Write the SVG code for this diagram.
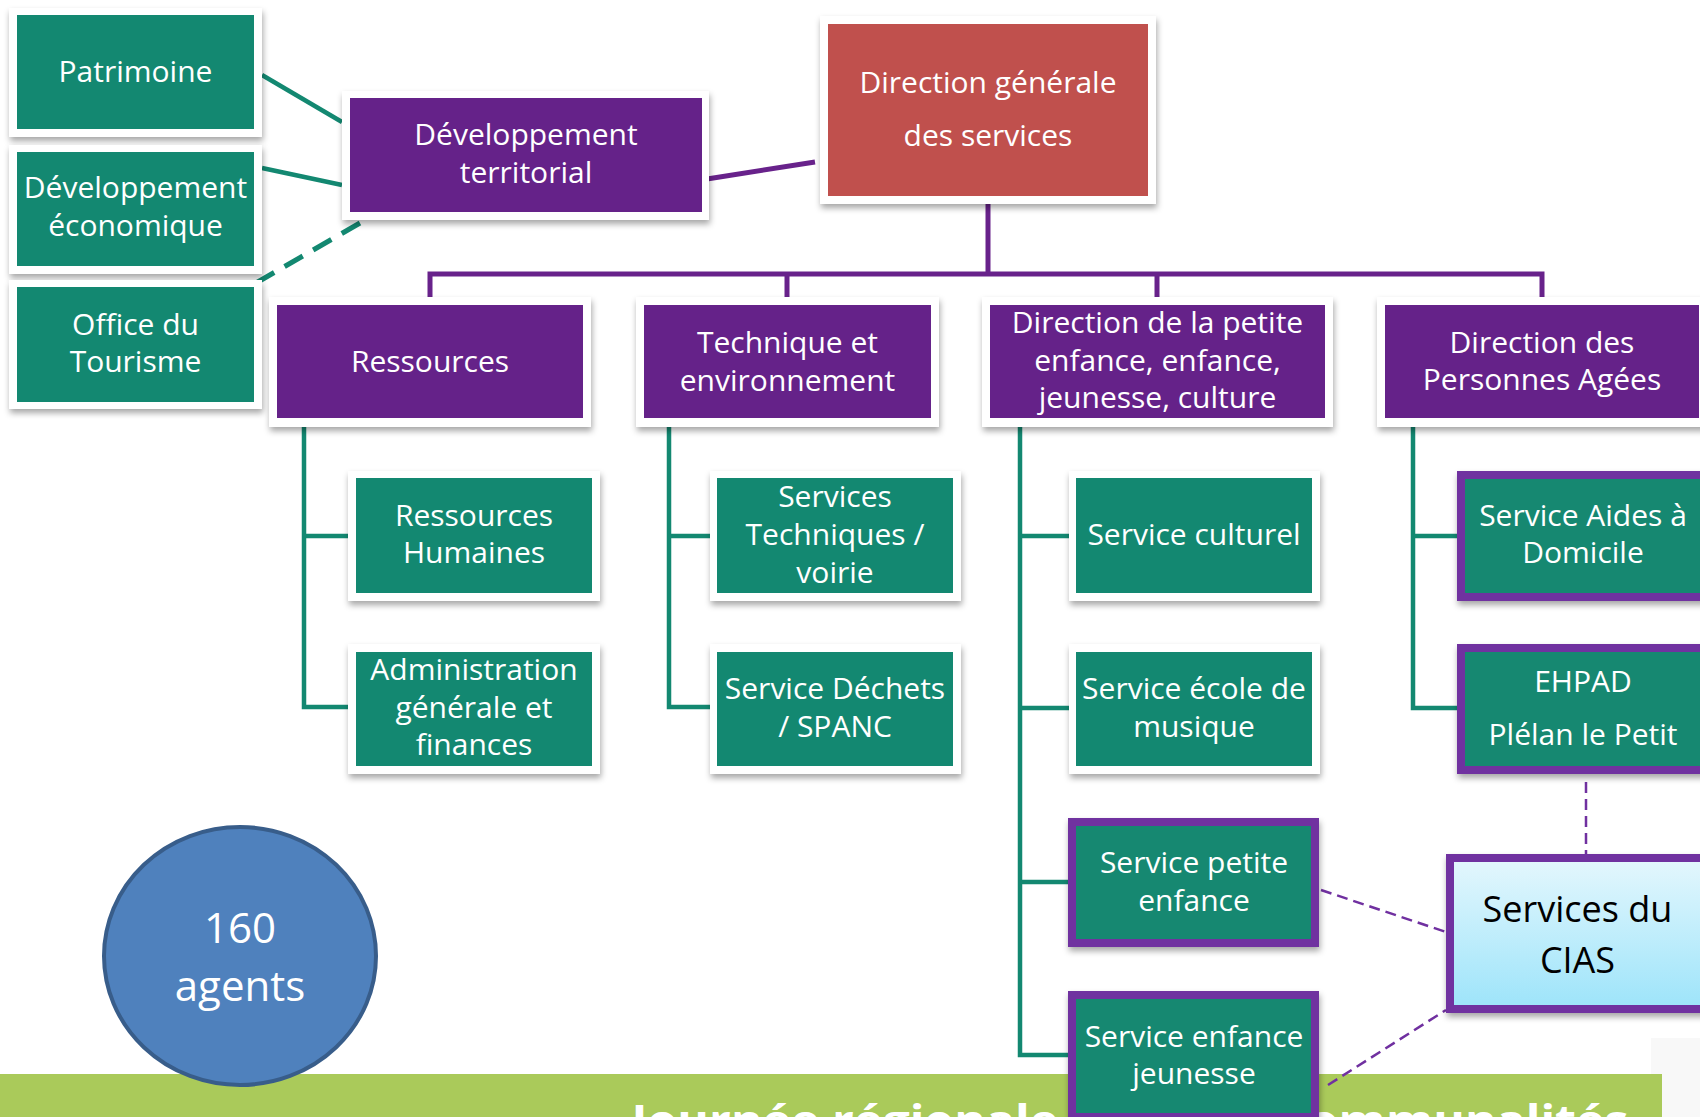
<svg xmlns="http://www.w3.org/2000/svg" width="1700" height="1117" viewBox="0 0 1700 1117">
<defs>
<filter id="sh" x="-10%" y="-10%" width="120%" height="130%">
<feDropShadow dx="1" dy="4" stdDeviation="3" flood-color="#000" flood-opacity="0.35"/>
</filter>
<linearGradient id="cias" x1="0" y1="0" x2="0" y2="1">
<stop offset="0" stop-color="#E4F7FD"/>
<stop offset="1" stop-color="#9DE4FA"/>
</linearGradient>
</defs>
<style>
text{font-family:"Open Sans","Liberation Sans",sans-serif;font-size:30px;fill:#fff;text-anchor:middle}
.frame{fill:#fff;filter:url(#sh)}
.green{fill:#138871}
.purple{fill:#652289}
.hl{fill:#138871;stroke:#7030A0;stroke-width:8;filter:url(#sh)}
.tl{fill:none;stroke:#138871;stroke-width:4.5}
.pl{fill:none;stroke:#68228B;stroke-width:5}
.pd{fill:none;stroke:#7030A0;stroke-width:2.5;stroke-dasharray:11 6}
</style>
<rect width="1700" height="1117" fill="#fff"/>
<rect x="1651" y="1038" width="49" height="79" fill="#F8F8F8"/>
<g id="banner">
<rect x="0" y="1074" width="1662" height="43" fill="#AACA5A"/>
<text x="1130" y="1136" style="font-size:43px;font-weight:bold" textLength="997" lengthAdjust="spacingAndGlyphs">Journée régionale des intercommunalités</text>
</g>
<g id="connectors">
<line class="tl" x1="262" y1="75" x2="342" y2="122"/>
<line class="tl" x1="262" y1="168" x2="342" y2="185"/>
<line class="tl" x1="256" y1="283" x2="360" y2="223" style="stroke-width:5;stroke-dasharray:21 12"/>
<line class="pl" x1="707" y1="179" x2="815" y2="162"/>
<polyline class="pl" points="988,204 988,274"/>
<polyline class="pl" points="430,297 430,274 1542,274 1542,297"/>
<line class="pl" x1="787" y1="274" x2="787" y2="297"/>
<line class="pl" x1="1157" y1="274" x2="1157" y2="297"/>
<polyline class="tl" points="304,427 304,707 348,707"/>
<line class="tl" x1="304" y1="536" x2="348" y2="536"/>
<polyline class="tl" points="669,427 669,707 710,707"/>
<line class="tl" x1="669" y1="536" x2="710" y2="536"/>
<polyline class="tl" points="1020,427 1020,1055 1068,1055"/>
<line class="tl" x1="1020" y1="536" x2="1069" y2="536"/>
<line class="tl" x1="1020" y1="708" x2="1069" y2="708"/>
<line class="tl" x1="1020" y1="882" x2="1068" y2="882"/>
<polyline class="tl" points="1413,427 1413,708 1457,708"/>
<line class="tl" x1="1413" y1="536" x2="1457" y2="536"/>
<line class="pd" x1="1586" y1="782" x2="1586" y2="854"/>
<line class="pd" x1="1321" y1="890" x2="1446" y2="932"/>
<line class="pd" x1="1328" y1="1085" x2="1446" y2="1010"/>
</g>
<g id="patrimoine">
<rect class="frame" x="9" y="8" width="253" height="129"/>
<rect class="green" x="17" y="15" width="237" height="114"/>
<text x="135.5" y="82">Patrimoine</text>
</g>
<g id="dev-eco">
<rect class="frame" x="9" y="145" width="253" height="129"/>
<rect class="green" x="17" y="152" width="237" height="114"/>
<text x="135.5" y="198">Développement</text>
<text x="135.5" y="236">économique</text>
</g>
<g id="office-tourisme">
<rect class="frame" x="9" y="280" width="253" height="129"/>
<rect class="green" x="17" y="287" width="237" height="115"/>
<text x="135.5" y="335">Office du</text>
<text x="135.5" y="372">Tourisme</text>
</g>
<g id="dev-territorial">
<rect class="frame" x="342" y="91" width="367" height="129"/>
<rect class="purple" x="350" y="98" width="352" height="114"/>
<text x="526" y="145">Développement</text>
<text x="526" y="183">territorial</text>
</g>
<g id="dgs">
<rect class="frame" x="820" y="16" width="336" height="188"/>
<rect x="828" y="24" width="320" height="172" fill="#C0504D"/>
<text x="988" y="93">Direction générale</text>
<text x="988" y="146">des services</text>
</g>
<g id="ressources">
<rect class="frame" x="269" y="297" width="322" height="130"/>
<rect class="purple" x="277" y="305" width="306" height="113"/>
<text x="430" y="372">Ressources</text>
</g>
<g id="technique">
<rect class="frame" x="636" y="297" width="303" height="130"/>
<rect class="purple" x="644" y="305" width="287" height="113"/>
<text x="787.5" y="353">Technique et</text>
<text x="787.5" y="391">environnement</text>
</g>
<g id="dir-petite-enfance">
<rect class="frame" x="982" y="297" width="351" height="130"/>
<rect class="purple" x="990" y="305" width="335" height="113"/>
<text x="1157.5" y="333">Direction de la petite</text>
<text x="1157.5" y="371">enfance, enfance,</text>
<text x="1157.5" y="408">jeunesse, culture</text>
</g>
<g id="dir-personnes-agees">
<rect class="frame" x="1377" y="297" width="330" height="130"/>
<rect class="purple" x="1385" y="305" width="314" height="113"/>
<text x="1542" y="353">Direction des</text>
<text x="1542" y="390">Personnes Agées</text>
</g>
<g id="rh">
<rect class="frame" x="348" y="471" width="252" height="130"/>
<rect class="green" x="356" y="478" width="236" height="115"/>
<text x="474" y="526">Ressources</text>
<text x="474" y="563">Humaines</text>
</g>
<g id="admin">
<rect class="frame" x="348" y="644" width="252" height="130"/>
<rect class="green" x="356" y="652" width="236" height="114"/>
<text x="474" y="680">Administration</text>
<text x="474" y="718">générale et</text>
<text x="474" y="755">finances</text>
</g>
<g id="services-techniques">
<rect class="frame" x="710" y="471" width="251" height="130"/>
<rect class="green" x="717" y="478" width="236" height="115"/>
<text x="835" y="507">Services</text>
<text x="835" y="545">Techniques /</text>
<text x="835" y="583">voirie</text>
</g>
<g id="dechets">
<rect class="frame" x="710" y="644" width="251" height="130"/>
<rect class="green" x="717" y="652" width="236" height="114"/>
<text x="835" y="699">Service Déchets</text>
<text x="835" y="737">/ SPANC</text>
</g>
<g id="culturel">
<rect class="frame" x="1069" y="471" width="251" height="130"/>
<rect class="green" x="1076" y="478" width="236" height="115"/>
<text x="1194" y="545">Service culturel</text>
</g>
<g id="musique">
<rect class="frame" x="1069" y="644" width="251" height="130"/>
<rect class="green" x="1076" y="652" width="236" height="114"/>
<text x="1194" y="699">Service école de</text>
<text x="1194" y="737">musique</text>
</g>
<g id="petite-enfance">
<rect class="hl" x="1072" y="822" width="243" height="121"/>
<text x="1194" y="873">Service petite</text>
<text x="1194" y="911">enfance</text>
</g>
<g id="enfance-jeunesse">
<rect class="hl" x="1072" y="995" width="243" height="122"/>
<text x="1194" y="1047">Service enfance</text>
<text x="1194" y="1084">jeunesse</text>
</g>
<g id="aides-domicile">
<rect class="hl" x="1461" y="475" width="244" height="122"/>
<text x="1583" y="526">Service Aides à</text>
<text x="1583" y="563">Domicile</text>
</g>
<g id="ehpad">
<rect class="hl" x="1461" y="648" width="244" height="122"/>
<text x="1583" y="692">EHPAD</text>
<text x="1583" y="745">Plélan le Petit</text>
</g>
<g id="cias">
<rect x="1450" y="858" width="255" height="151" fill="url(#cias)" stroke="#7030A0" stroke-width="8" filter="url(#sh)"/>
<text x="1577.5" y="922" style="fill:#000;font-size:36px">Services du</text>
<text x="1577.5" y="973" style="fill:#000;font-size:36px">CIAS</text>
</g>
<g id="agents">
<ellipse cx="240" cy="956" rx="136" ry="129" fill="#4F81BD" stroke="#385D8A" stroke-width="4"/>
<text x="240" y="943" style="font-size:42px">160</text>
<text x="240" y="1001" style="font-size:42px">agents</text>
</g>
</svg>
